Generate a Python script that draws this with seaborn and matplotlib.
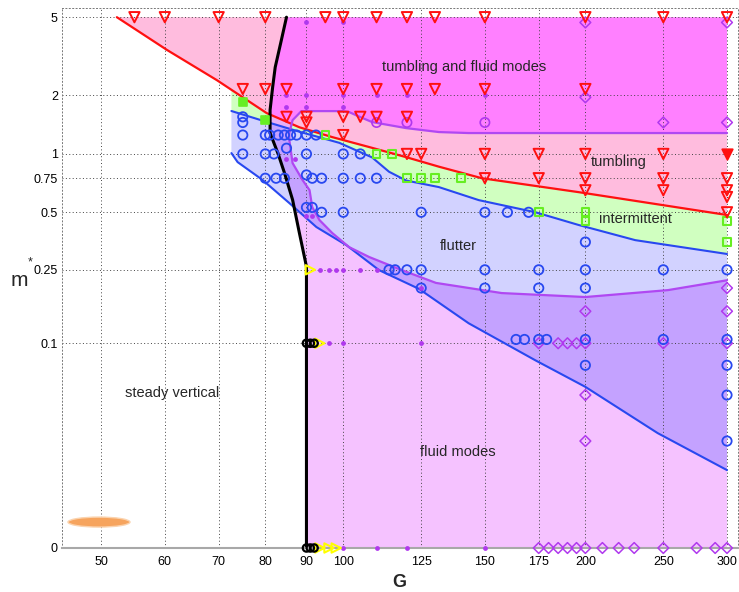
import numpy as np
import matplotlib
matplotlib.use("Agg")
import matplotlib.pyplot as plt
from matplotlib.patches import Polygon, Ellipse
from matplotlib.ticker import NullLocator
import seaborn as sns

sns.set_style("white")
plt.rcParams["font.family"] = ["Liberation Sans", "DejaVu Sans"]

# ---------------- regime boundaries (G, m*) ----------------
steady_G = [85.0, 83.6, 82.3, 81.7, 81.1, 81.1, 83.0, 84.5, 86.5, 88.2, 90.0, 90.0]
steady_m = [5.0, 3.69, 2.78, 2.2, 1.68, 1.28, 1.0, 0.8, 0.58, 0.39, 0.26, 0.0]

tumble_G = [52.3, 60.4, 69.6, 80.3, 88.2, 96.9, 107.7, 119.7, 131.5, 148.7, 196.0, 300.0]
tumble_m = [5.0, 3.4, 2.39, 1.62, 1.37, 1.22, 1.085, 0.963, 0.86, 0.75, 0.636, 0.484]

flutter_top_G = [72.6, 80.3, 88.2, 98.9, 108.6, 114.0, 119.7, 131.5, 147.4, 173.4, 196.0, 230.7, 300.0]
flutter_top_m = [1.66, 1.46, 1.30, 1.14, 0.96, 0.81, 0.73, 0.675, 0.578, 0.50, 0.43, 0.358, 0.303]

flutter_low_G = [72.6, 73.9, 79.4, 85.7, 92.6, 100.9, 110.8, 124.2, 143.2, 173.4, 200.0, 246.0, 300.0]
flutter_low_m = [1.01, 0.908, 0.734, 0.558, 0.419, 0.337, 0.249, 0.198, 0.129, 0.080, 0.056, 0.0284, 0.0149]

fluid_G = [300.0, 143.2, 131.5, 119.7, 108.6, 105.0, 101.7, 99.7, 88.7, 86.5, 85.7, 85.7, 86.5,
           89.0, 90.8, 91.5, 93.4, 96.9, 101.7, 107.7, 118.3, 130.4, 157.4, 200.0, 253.4, 300.0]
fluid_m = [1.28, 1.28, 1.295, 1.357, 1.457, 1.545, 1.639, 1.658, 1.658, 1.49, 1.28, 1.178, 0.897,
           0.734, 0.651, 0.532, 0.456, 0.39, 0.329, 0.292, 0.249, 0.213, 0.188, 0.179, 0.195, 0.22]

intermittent_corner = (72.6, 2.11)

# ---------------- observed regimes ----------------
steady_pts_G = [70, 80, 85, 70, 80, 75, 80, 70, 80,
                60, 70, 80, 60, 70, 80, 60, 70, 80,
                60, 70, 80, 90, 60, 70, 80, 70, 80]
steady_pts_m = [5, 5, 4.85, 2, 2, 1.85, 1.85, 1.45, 1.5,
                1, 1, 1, 0.75, 0.75, 0.75, 0.5, 0.5, 0.5,
                0.25, 0.25, 0.25, 0.25, 0.1, 0.1, 0.1, 0, 0]

tumbling_G = [55, 60, 70, 80, 95, 100, 110, 120, 130, 150, 200, 250, 300,
              75, 80, 85, 100, 110, 120, 130, 150, 200,
              85, 90, 100, 105, 110, 120, 90, 100,
              120, 125, 150, 175, 200, 250,
              150, 175, 200, 250, 300,
              200, 250, 300, 300, 300]
tumbling_m = [5, 5, 5, 5, 5, 5, 5, 5, 5, 5, 5, 5, 5,
              2.15, 2.15, 2.15, 2.15, 2.15, 2.15, 2.15, 2.15, 2.15,
              1.55, 1.55, 1.55, 1.55, 1.55, 1.55, 1.45, 1.25,
              1, 1, 1, 1, 1, 1,
              0.75, 0.75, 0.75, 0.75, 0.75,
              0.65, 0.65, 0.65, 0.6, 0.5]
tumbling_solid_G = [300]
tumbling_solid_m = [1]

flutter_pts_G = [75, 75,
                 75, 80, 81, 83, 84.5, 86, 87.5, 90, 92.5,
                 75, 80, 82, 85, 90, 100, 105,
                 80, 82.5, 84.5, 90, 91.5, 94, 100, 105, 110,
                 90, 91.5, 94, 100, 125, 150, 160, 170,
                 200,
                 114, 116, 120, 125, 150, 175, 200, 250, 300,
                 125, 150, 175, 200,
                 164, 168, 175, 179, 200, 250, 300,
                 200, 300, 300, 300]
flutter_pts_m = [1.55, 1.45,
                 1.25, 1.25, 1.25, 1.25, 1.25, 1.25, 1.25, 1.25, 1.25,
                 1, 1, 1, 1.07, 1, 1, 1,
                 0.75, 0.75, 0.75, 0.78, 0.75, 0.75, 0.75, 0.75, 0.75,
                 0.53, 0.53, 0.5, 0.5, 0.5, 0.5, 0.5, 0.5,
                 0.35,
                 0.25, 0.25, 0.25, 0.25, 0.25, 0.25, 0.25, 0.25, 0.25,
                 0.2, 0.2, 0.2, 0.2,
                 0.105, 0.105, 0.105, 0.105, 0.105, 0.105, 0.105,
                 0.075, 0.075, 0.05, 0.025]

intermittent_pts_G = [95, 110, 115, 120, 125, 130, 140, 175, 200, 200, 300, 300]
intermittent_pts_m = [1.25, 1, 1, 0.75, 0.75, 0.75, 0.75, 0.5, 0.5, 0.45, 0.45, 0.35]
intermittent_solid_G = [75, 80]
intermittent_solid_m = [1.85, 1.5]

fluid_dot_G = [90, 100, 85, 90, 100, 110, 120, 150, 85, 90, 100, 85, 87, 90, 91.5,
               93.5, 96, 98, 100, 105, 110, 125, 96, 100, 125, 100, 110, 120, 150]
fluid_dot_m = [4.7, 4.7, 2, 2, 2, 2, 2, 2, 1.75, 1.75, 1.75, 0.94, 0.94, 0.48, 0.48,
               0.25, 0.25, 0.25, 0.25, 0.25, 0.25, 0.2, 0.1, 0.1, 0.1, 0, 0, 0, 0]
fluid_ring_G = [110, 120, 150]
fluid_ring_m = [1.45, 1.45, 1.45]
fluid_star_G = [110, 150, 200, 150, 154, 158]
fluid_star_m = [4.8, 4.8, 1.45, 0.1, 0.1, 0.1]
fluid_diamond_G = [200, 300, 200, 250, 300, 300, 200, 300,
                   175, 185, 190, 195, 200, 250, 300, 200, 200,
                   175, 180, 185, 190, 195, 200, 210, 220, 230, 250, 275, 290, 300]
fluid_diamond_m = [4.7, 4.7, 1.95, 1.45, 1.45, 0.2, 0.15, 0.15,
                   0.1, 0.1, 0.1, 0.1, 0.1, 0.1, 0.1, 0.05, 0.025,
                   0, 0, 0, 0, 0, 0, 0, 0, 0, 0, 0, 0, 0]

oblique_G = [91, 93.5, 93.5, 96, 98]
oblique_m = [0.25, 0.1, 0, 0, 0]
chaotic_G = [90, 91, 92, 90, 91, 92]
chaotic_m = [0.1, 0.1, 0.1, 0, 0, 0]

x_ticks = [50, 60, 70, 80, 90, 100, 125, 150, 175, 200, 250, 300]
y_ticks = [0, 0.1, 0.25, 0.5, 0.75, 1, 2, 5]
y_tick_labels = ["0", "0.1", "0.25", "0.5", "0.75", "1", "2", "5"]

# ---------------- colours ----------------
PINK = "#FFBCDE"
MAGENTA = "#FF80FF"
GREEN = "#D0FFC0"
LAVENDER = "#D2D2FF"
FLUID = "#F5C2FF"
FLUID_FLUTTER = "#C4A2FF"
FLUID_INTER = "#E8B0F5"
RED = "#FF1010"
BLUE = "#2848F0"
PURPLE = "#B048F2"
DOT = "#B038EE"
LIME = "#66EE22"

fig = plt.figure(figsize=(7.39, 5.92), dpi=100)
ax = fig.add_axes([62 / 739, 44 / 592, 676 / 739, 540 / 592])

OFFSET = 0.01
ax.set_xscale("log")
ax.set_yscale("function",
              functions=(lambda v: np.log(np.asarray(v) + OFFSET),
                         lambda v: np.exp(np.asarray(v)) - OFFSET))
ax.set_xlim(44.7, 309.6)
ax.set_ylim(0, 5.57)


def region(G, m, color, z):
    patch = Polygon(np.column_stack([G, m]), closed=True, facecolor=color,
                    edgecolor="none", zorder=z)
    ax.add_patch(patch)
    return patch


tumble_poly = region(tumble_G + [300.0], tumble_m + [5.0], PINK, 0.5)
inter_G = [intermittent_corner[0]] + tumble_G[3:] + flutter_top_G[::-1]
inter_m = [intermittent_corner[1]] + tumble_m[3:] + flutter_top_m[::-1]
inter_poly = region(inter_G, inter_m, GREEN, 0.5)
flutter_poly = region(flutter_top_G + flutter_low_G[::-1],
                      flutter_top_m + flutter_low_m[::-1], LAVENDER, 0.5)

fluid_poly_G = steady_G + [300.0] + fluid_G[::-1] + [300.0]
fluid_poly_m = steady_m + [0.0] + fluid_m[::-1] + [5.0]
region(fluid_poly_G, fluid_poly_m, FLUID, 0.6)
for clip, col in [(tumble_poly, MAGENTA), (flutter_poly, FLUID_FLUTTER), (inter_poly, FLUID_INTER)]:
    p = region(fluid_poly_G, fluid_poly_m, col, 0.7)
    p.set_clip_path(clip)

# boundary curves
for G, m, col, lw in [(tumble_G, tumble_m, RED, 1.6),
                      (flutter_top_G, flutter_top_m, BLUE, 1.5),
                      (flutter_low_G, flutter_low_m, BLUE, 1.5),
                      (fluid_G, fluid_m, PURPLE, 1.6),
                      (steady_G, steady_m, "black", 2.2)]:
    sns.lineplot(x=G, y=m, sort=False, estimator=None, color=col,
                 linewidth=lw, ax=ax, zorder=2.2)


def points(G, m, marker, color, s, fill="none", lw=1.2, z=4):
    sns.scatterplot(x=G, y=m, marker=marker, s=s, color=color, facecolor=fill,
                    edgecolor=color, linewidth=lw, ax=ax, zorder=z, clip_on=False)


points(fluid_diamond_G, fluid_diamond_m, "D", DOT, 30, lw=1.1, z=3)
points(fluid_star_G, fluid_star_m, (8, 2, 0), DOT, 36, lw=0.9, z=3)
points(fluid_ring_G, fluid_ring_m, "o", DOT, 45, lw=1.2, z=3)
points(fluid_dot_G, fluid_dot_m, "o", DOT, 12, fill=DOT, lw=0, z=3.5)
points(steady_pts_G, steady_pts_m, "+", "black", 55, lw=1.6, z=4.5)
points(flutter_pts_G, flutter_pts_m, "o", BLUE, 45, lw=1.3)
points(intermittent_pts_G, intermittent_pts_m, "s", LIME, 30, lw=1.5)
points(intermittent_solid_G, intermittent_solid_m, "s", LIME, 40, fill=LIME, lw=1.2, z=3.8)
points(tumbling_G, tumbling_m, "v", RED, 55, lw=1.4, z=4.2)
points(tumbling_solid_G, tumbling_solid_m, "v", RED, 55, fill=RED, lw=1.4, z=4.2)
points(oblique_G, oblique_m, ">", "#FFFF00", 45, lw=1.5)
points(chaotic_G, chaotic_m, "o", "black", 28, lw=1.6, z=4.6)

# axes styling
ax.set_xticks(x_ticks)
ax.set_xticklabels([str(t) for t in x_ticks])
ax.set_yticks(y_ticks)
ax.set_yticklabels(y_tick_labels)
ax.xaxis.set_minor_locator(NullLocator())
ax.yaxis.set_minor_locator(NullLocator())
ax.tick_params(axis="both", direction="in", length=5, color="#888888",
               labelsize=9, labelcolor="black")
ax.tick_params(axis="y", pad=3)
ax.tick_params(axis="x", pad=6)
ax.grid(True, linestyle=(0, (1, 2.5)), color="#444444", linewidth=0.7)
ax.set_axisbelow("line")
for side in ["top", "left", "right"]:
    ax.spines[side].set_linestyle((0, (1, 2.5)))
    ax.spines[side].set_color("#777777")
    ax.spines[side].set_linewidth(0.7)
ax.spines["bottom"].set_color("#A8A8A8")
ax.spines["bottom"].set_linewidth(1.5)
ax.set_xlabel("")
ax.set_ylabel("")

fig.text(399.5 / 739, 1 - 582.5 / 592, "G", fontsize=13, fontweight="bold",
         ha="center", va="center")
fig.text(19 / 739, 1 - 280 / 592, "m", fontsize=15, ha="center", va="center")
fig.text(30 / 739, 1 - 262 / 592, "*", fontsize=9, ha="center", va="center")

labels = [("tumbling and fluid modes", 141.5, 2.78),
          ("tumbling", 220, 0.905),
          ("intermittent", 231, 0.46),
          ("flutter", 139, 0.334),
          ("fluid modes", 139, 0.0208),
          ("steady vertical", 61.2, 0.0514)]
for txt, g, mv in labels:
    ax.text(g, mv, txt, fontsize=10.5, ha="center", va="center", zorder=6)

ax.add_patch(Ellipse((0.0547, 0.048), 0.0917, 0.0185, transform=ax.transAxes,
                     facecolor="#F6A45E", edgecolor="#FBD3AE", linewidth=1.0, zorder=5))

fig.savefig("out.png", dpi=100)
